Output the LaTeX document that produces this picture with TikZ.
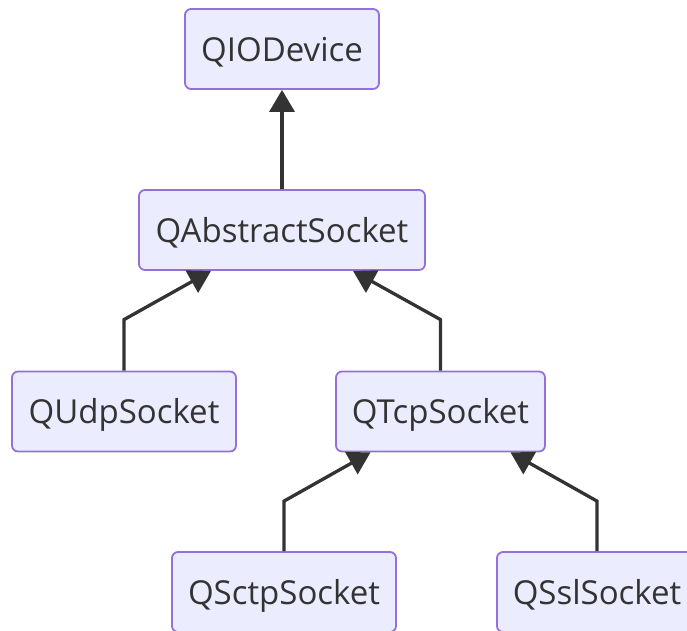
\documentclass[tikz,border=0pt]{standalone}
\usepackage{fontspec}
\setmainfont{Open Sans}
\usetikzlibrary{arrows.meta}
\definecolor{nodefill}{HTML}{ECECFF}
\definecolor{nodeborder}{HTML}{9370DB}
\definecolor{ink}{HTML}{333333}
\begin{document}
\begin{tikzpicture}[x=1pt,y=-1pt,
  box/.style={draw=nodeborder, fill=nodefill, line width=1.8pt, rounded corners=6pt,
    minimum height=80pt, inner sep=0pt, text height=32pt, text depth=8pt,
    text=ink, font=\fontsize{33}{38}\selectfont},
  arr/.style={draw=ink, line width=3.3pt, -{Triangle[length=22pt,width=25pt]}}]
\useasboundingbox (0,0) rectangle (687,630);
\node[box, minimum width=194pt] (io) at (282,49) {QIODevice};
\node[box, minimum width=286pt] (abs) at (282,230) {QAbstractSocket};
\node[box, minimum width=224pt] (udp) at (124,411.5) {QUdpSocket};
\node[box, minimum width=209pt] (tcp) at (440.5,411.5) {QTcpSocket};
\node[box, minimum width=224pt] (sctp) at (284,592) {QSctpSocket};
\node[box, minimum width=200pt] (ssl) at (597,592) {QSslSocket};
\draw[arr] (abs.north) -- (io.south);
\draw[arr] (udp.north) -- ++(0,-51) -- ([xshift=-71pt]abs.south);
\draw[arr] (tcp.north) -- ++(0,-51) -- ([xshift=71pt]abs.south);
\draw[arr] (sctp.north) -- ++(0,-50) -- ([xshift=-70pt]tcp.south);
\draw[arr] (ssl.north) -- ++(0,-50) -- ([xshift=70pt]tcp.south);
\end{tikzpicture}
\end{document}
